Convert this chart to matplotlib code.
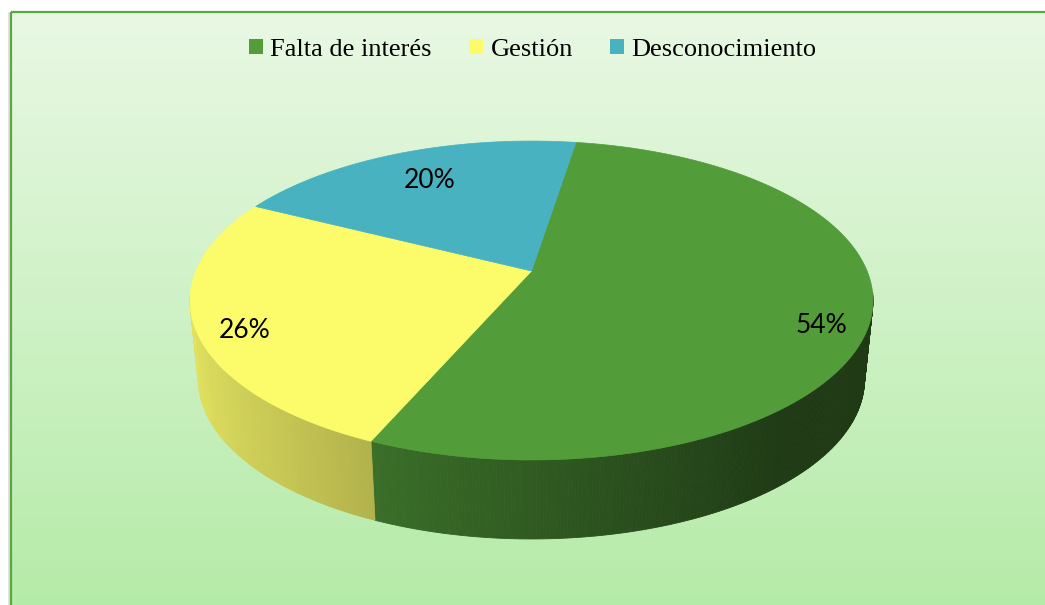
import numpy as np
import matplotlib
matplotlib.use("Agg")
import matplotlib.pyplot as plt
from matplotlib.patches import Polygon, Rectangle, Patch

# ---------------- data ----------------
categories = ["Falta de interés", "Gestión", "Desconocimiento"]
values = [54, 26, 20]
labels = ["54%", "26%", "20%"]
colors = ["#539c3a", "#fcfc6b", "#48b2c0"]

# ---------------- style / geometry ----------------
W, H = 1045, 605
cx, vy_top, vy_bot = 531.5, 271.0, 350.0
Xs, Ys, k = 335.6, 154.0, 0.185
Xs_bot = Xs * 0.975
start_angle = 9.0
label_r = [0.86, 0.86, 0.75]
label_dy = [23, 20, 9]

fig = plt.figure(figsize=(W / 100, H / 100), dpi=100)
fig.patch.set_facecolor("white")
ax = fig.add_axes([0, 0, 1, 1])
ax.set_xlim(0, W)
ax.set_ylim(H, 0)
ax.axis("off")

# background gradient of chart area
top_c = np.array([233, 248, 228]) / 255
bot_c = np.array([181, 235, 168]) / 255
g = np.linspace(0, 1, 300)[:, None, None]
img = top_c + (bot_c - top_c) * g
ax.imshow(img, extent=(11, W + 2, H + 2, 12), aspect="auto", zorder=0,
          interpolation="bilinear")
ax.plot([8.5, 8.5], [13, H], color="#dcdcdc", lw=1.2, zorder=1)
ax.add_patch(Rectangle((10.8, 11.8), W + 20, H + 20, facecolor="none",
                       edgecolor="#5ca640", lw=1.6, zorder=1))


def proj(theta_deg, r=1.0, xs=Xs, ys=Ys, vy=vy_top):
    t = np.radians(theta_deg)
    p = r * np.sin(t)
    q = -r * np.cos(t)
    d = 1 - k * q
    return cx + xs * p / d, vy + ys * q / d


def shade(rgb, theta):
    f = np.clip(0.58 + 0.32 * (-np.sin(np.radians(theta))), 0.37, 1.0)
    return tuple(np.clip(np.array(rgb) * f, 0, 1))


bounds = start_angle + 360 * np.concatenate([[0], np.cumsum(values)]) / sum(values)

# side walls (front visible part)
th_R = np.degrees(np.arccos(-k)) - 3
th_L = 360 - np.degrees(np.arccos(-k)) + 3
for i, c in enumerate(colors):
    a0, a1 = bounds[i], bounds[i + 1]
    lo, hi = max(a0, th_R), min(a1, th_L)
    if hi <= lo:
        continue
    n = max(int((hi - lo) * 2), 2)
    ts = np.linspace(lo, hi, n + 1)
    rgb = matplotlib.colors.to_rgb(c)
    for t0, t1 in zip(ts[:-1], ts[1:]):
        x0, y0 = proj(t0)
        x1, y1 = proj(t1)
        bx0, by0 = proj(t0, xs=Xs_bot, vy=vy_bot)
        bx1, by1 = proj(t1, xs=Xs_bot, vy=vy_bot)
        col = shade(rgb, 0.5 * (t0 + t1))
        ax.add_patch(Polygon([(x0, y0), (x1, y1), (bx1, by1), (bx0, by0)],
                             closed=True, facecolor=col, edgecolor=col,
                             lw=0.6, zorder=2))

# top faces
for i, c in enumerate(colors):
    a0, a1 = bounds[i], bounds[i + 1]
    ts = np.linspace(a0, a1, 300)
    xs, ys = proj(ts)
    pts = [(cx, vy_top)] + list(zip(xs, ys))
    ax.add_patch(Polygon(pts, closed=True, facecolor=c, edgecolor=c,
                         lw=0.5, zorder=3))

# labels
for i, lab in enumerate(labels):
    mid = 0.5 * (bounds[i] + bounds[i + 1])
    lx, ly = proj(mid, r=label_r[i])
    ax.text(lx, ly + label_dy[i], lab, ha="center", va="baseline",
            fontsize=19, family="Lato", weight="normal", color="black", zorder=5)

# legend
handles = [Patch(facecolor=c, edgecolor="none") for c in colors]
fig.legend(handles, categories, loc="center", bbox_to_anchor=(533 / W, 1 - 50 / H),
           ncol=3, frameon=False, prop={"family": "Liberation Serif", "size": 19},
           handlelength=0.5, handleheight=0.5, handletextpad=0.3,
           columnspacing=1.42, borderpad=0, borderaxespad=0)

fig.savefig("out.png", dpi=100)
